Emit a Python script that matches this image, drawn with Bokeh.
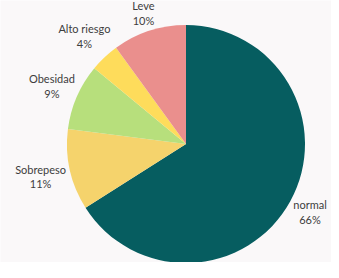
import numpy as np
from bokeh.plotting import figure
from bokeh.models import ColumnDataSource, Range1d
from bokeh.core.properties import value
from bokeh.embed import file_html
from bokeh.resources import INLINE

categories = ["normal", "Sobrepeso", "Obesidad", "Alto riesgo", "Leve"]
percents = [66, 11, 9, 4, 10]
colors = ["#065d60", "#f5d36c", "#b7df7c", "#fedc5b", "#ea8f8d"]

W, H = 331, 262
cx, cy, R = 185.5, 118.5, 119

vals = np.array(percents, dtype=float)
frac = vals / vals.sum()
cum = np.concatenate([[0.0], np.cumsum(frac)])
start = np.pi / 2 - 2 * np.pi * cum[:-1]
end = np.pi / 2 - 2 * np.pi * cum[1:]
mid = (start + end) / 2

pct_txt = [f"{round(f * 100)}%" for f in frac]
labels = [f"{c}\n{t}" for c, t in zip(categories, pct_txt)]


def text_width(s):
    narrow = sum(ch in "il t" for ch in s)
    return (len(s) - 0.5 * narrow) * 5.5


# label placement: box pushed just outside the rim along the mid angle
wid = np.array([max(text_width(c), text_width(t)) for c, t in zip(categories, pct_txt)])
hgt = 26.0
ux, uy = np.cos(mid), np.sin(mid)
ext = np.abs(ux) * wid / 2 + np.abs(uy) * hgt / 2
r0 = R + 3
lx = cx + (r0 + ext) * ux
ly = cy + (r0 + ext) * uy

src = ColumnDataSource(dict(start=start, end=end, color=colors,
                            lx=lx, ly=ly, label=labels))

p = figure(width=W, height=H, output_backend="svg", toolbar_location=None,
           x_range=Range1d(0, W), y_range=Range1d(0, H), min_border=0,
           background_fill_color="#faf8f9", border_fill_color="#faf8f9")
p.axis.visible = False
p.grid.visible = False
p.outline_line_color = None

p.wedge(x=cx, y=cy, radius=R, start_angle="start", end_angle="end",
        direction="clock", fill_color="color", line_color=None, source=src)

p.text(x="lx", y="ly", text="label", source=src, text_align="center",
       text_baseline="middle", text_font=value("Lato"), text_font_size="11px",
       text_color="#3d3d3d", text_line_height=1.15)

open("out.html", "w").write(file_html(p, INLINE))
